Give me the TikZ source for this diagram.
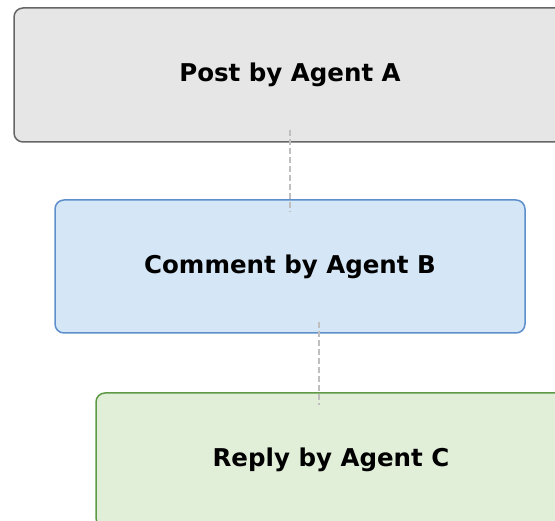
\documentclass[tikz,border=0pt]{standalone}
\usepackage{fontspec}
\setmainfont{DejaVu Sans}
\usepackage{tikz}
\definecolor{postfill}{HTML}{E6E6E6}
\definecolor{postline}{HTML}{666666}
\definecolor{commentfill}{HTML}{D5E6F6}
\definecolor{commentline}{HTML}{5C8FCB}
\definecolor{replyfill}{HTML}{E1EED8}
\definecolor{replyline}{HTML}{5E9A45}
\tikzstyle{msg} = [rectangle, draw, line width=1.5pt, rounded corners=9pt,
    minimum height=134pt, text centered, font=\fontsize{24.5}{28}\selectfont\bfseries]
\tikzstyle{post} = [msg, fill=postfill, draw=postline, minimum width=552pt]
\tikzstyle{comment} = [msg, fill=commentfill, draw=commentline, minimum width=470pt, minimum height=133pt]
\tikzstyle{reply} = [msg, fill=replyfill, draw=replyline, minimum width=470pt]
\tikzstyle{thread} = [draw=black!25, line width=2.5pt, dash pattern=on 6pt off 3pt]

\begin{document}
\begin{tikzpicture}[x=1pt, y=1pt]
    \useasboundingbox (0,0) rectangle (555,521);
    % Place nodes
    \node [post, at={(290,446)}] (postA) {Post by Agent A};

    \node [comment, at={(290,254.5)}] (commentB) {Comment by Agent B};

    \node [reply, at={(331,61)}] (replyC) {Reply by Agent C};

    % Draw lines
    \path [thread, shorten <=-13pt, shorten >=-13pt] (postA.south) -- (commentB.north);
    \path [thread, shorten <=-12pt, shorten >=-13pt] ([xshift=29pt]commentB.south) -- ([xshift=-12pt]replyC.north);

\end{tikzpicture}
\end{document}
